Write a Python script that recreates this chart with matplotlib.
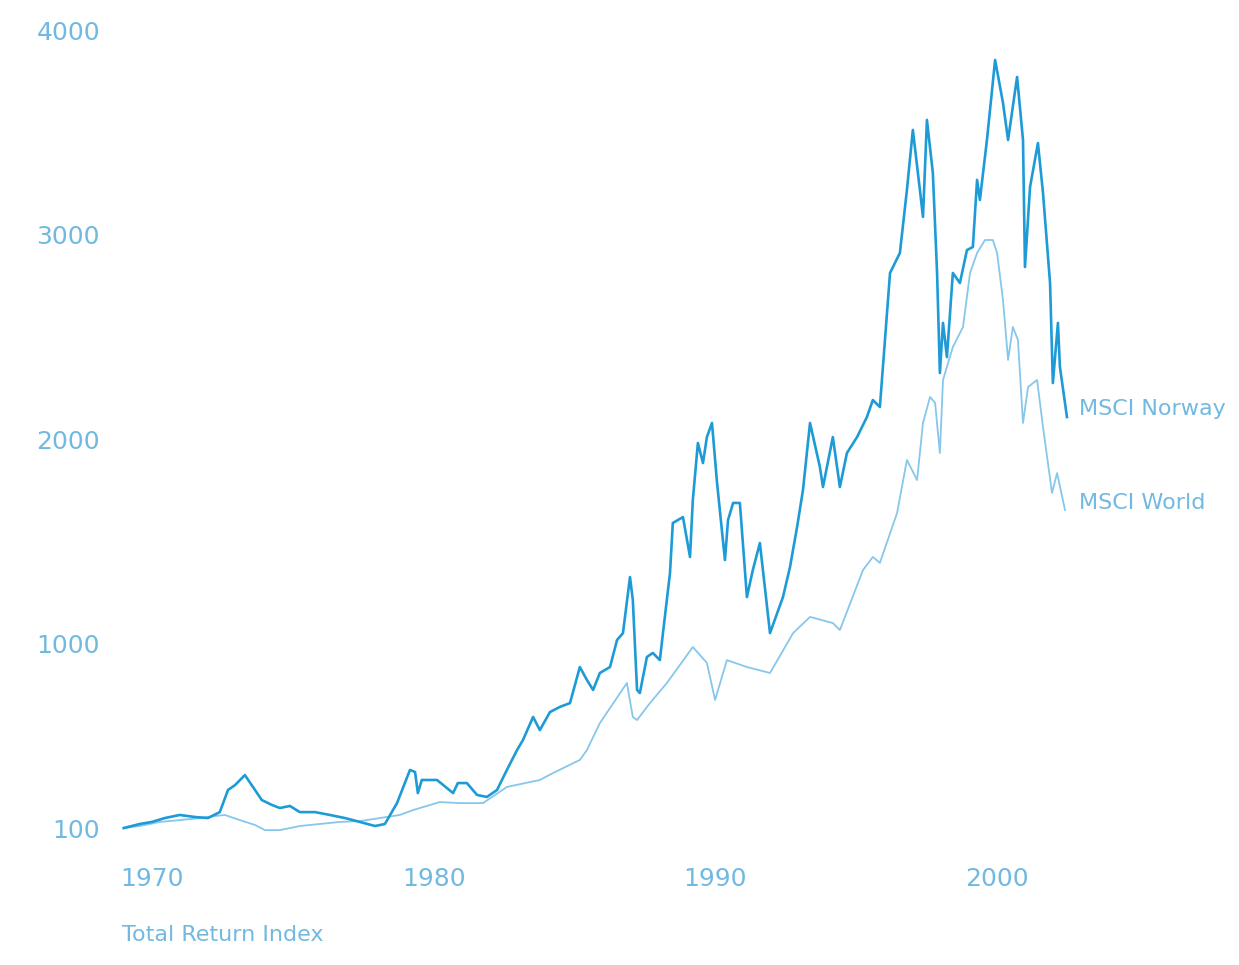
import matplotlib
matplotlib.use('Agg')
import matplotlib.pyplot as plt

# MSCI Norway total return index
norway_year = [1969.0, 1969.57, 1970.0, 1970.46, 1970.99, 1971.53, 1971.99, 1972.41, 1972.70, 1972.95,
               1973.30, 1973.66, 1973.90, 1974.26, 1974.54, 1974.90, 1975.25, 1975.79, 1976.32, 1976.85,
               1977.38, 1977.92, 1978.27, 1978.70, 1979.16, 1979.34, 1979.44, 1979.58, 1980.12, 1980.69,
               1980.86, 1981.18, 1981.54, 1981.89, 1982.25, 1982.60, 1982.96, 1983.17, 1983.53, 1983.77,
               1984.13, 1984.48, 1984.84, 1985.19, 1985.44, 1985.66, 1985.90, 1986.26, 1986.51, 1986.72,
               1986.97, 1987.07, 1987.22, 1987.32, 1987.57, 1987.78, 1988.03, 1988.14, 1988.39, 1988.49,
               1988.85, 1989.10, 1989.20, 1989.38, 1989.56, 1989.70, 1989.88, 1990.06, 1990.34, 1990.45,
               1990.63, 1990.87, 1991.12, 1991.33, 1991.58, 1991.94, 1992.40, 1992.65, 1992.90, 1993.11,
               1993.36, 1993.71, 1993.82, 1994.17, 1994.42, 1994.67, 1995.03, 1995.38, 1995.59, 1995.84,
               1996.20, 1996.55, 1996.80, 1997.01, 1997.26, 1997.37, 1997.51, 1997.72, 1997.87, 1997.97,
               1998.08, 1998.22, 1998.43, 1998.68, 1998.93, 1999.14, 1999.29, 1999.39, 1999.64, 1999.93,
               2000.21, 2000.39, 2000.71, 2000.92, 2000.99, 2001.17, 2001.45, 2001.63, 2001.88, 2001.98,
               2002.16, 2002.23, 2002.48]
norway_value = [100, 120, 130, 149, 164, 154, 149, 178, 286, 310,
                359, 286, 237, 213, 198, 208, 178, 178, 164, 149,
                130, 110, 120, 222, 384, 374, 271, 335, 335, 271,
                320, 320, 262, 252, 286, 384, 481, 530, 643, 579,
                667, 692, 711, 887, 824, 775, 858, 887, 1019, 1053,
                1327, 1215, 775, 760, 936, 956, 921, 1053, 1347, 1591,
                1620, 1425, 1703, 1982, 1884, 2011, 2080, 1787, 1410, 1606,
                1689, 1689, 1229, 1361, 1493, 1053, 1229, 1376, 1571, 1752,
                2080, 1865, 1767, 2011, 1767, 1933, 2011, 2109, 2192, 2158,
                2813, 2911, 3219, 3512, 3219, 3087, 3561, 3302, 2813, 2324,
                2569, 2402, 2813, 2764, 2925, 2940, 3268, 3170, 3463, 3854,
                3644, 3463, 3771, 3463, 2842, 3233, 3448, 3204, 2764, 2275,
                2569, 2354, 2109]

# MSCI World total return index
world_year = [1969.0, 1969.57, 1970.28, 1970.99, 1971.70, 1972.24, 1972.59, 1973.12, 1973.66, 1974.01,
              1974.54, 1974.90, 1975.25, 1975.96, 1976.67, 1977.38, 1978.09, 1978.80, 1979.27, 1980.22,
              1980.93, 1981.75, 1982.60, 1983.77, 1984.24, 1985.19, 1985.44, 1985.90, 1986.86, 1987.07,
              1987.22, 1987.68, 1988.28, 1989.20, 1989.70, 1989.99, 1990.41, 1991.12, 1991.94, 1992.76,
              1993.36, 1994.17, 1994.42, 1995.24, 1995.59, 1995.84, 1996.45, 1996.80, 1997.16, 1997.37,
              1997.62, 1997.80, 1997.97, 1998.08, 1998.43, 1998.79, 1999.04, 1999.29, 1999.57, 1999.85,
              2000.00, 2000.21, 2000.39, 2000.56, 2000.74, 2000.92, 2001.10, 2001.42, 2001.63, 2001.95,
              2002.13, 2002.41]
world_value = [100, 110, 130, 139, 149, 159, 164, 139, 115, 90,
               90, 100, 110, 120, 130, 134, 149, 164, 188, 227,
               222, 222, 301, 335, 369, 433, 481, 613, 809, 643,
               628, 711, 809, 985, 907, 726, 921, 887, 858, 1053,
               1132, 1102, 1068, 1361, 1425, 1396, 1640, 1899, 1801, 2080,
               2207, 2178, 1933, 2290, 2451, 2549, 2813, 2911, 2974, 2974,
               2911, 2681, 2388, 2549, 2486, 2080, 2256, 2290, 2060, 1738,
               1835, 1655]

year_ticks = [1970, 1980, 1990, 2000]
value_ticks = [100, 1000, 2000, 3000, 4000]

norway_color = '#1e9bd7'
world_color = '#86c7eb'
text_color = '#72b9e1'

fig = plt.figure(figsize=(12.39, 9.65), dpi=100)
ax = fig.add_axes([0.0885, 0.1207, 0.8072, 0.8693])

ax.plot(world_year, world_value, color=world_color, lw=1.3)
ax.plot(norway_year, norway_value, color=norway_color, lw=1.9)

ax.set_xlim(1968.5, 2004)
ax.set_ylim(0, 4100)
ax.set_xticks(year_ticks)
ax.set_yticks(value_ticks)
ax.tick_params(length=0, labelsize=18, labelcolor=text_color)
ax.tick_params(axis='x', pad=13)
ax.tick_params(axis='y', pad=7)
for s in ax.spines.values():
    s.set_visible(False)

ax.annotate('MSCI Norway', xy=(norway_year[-1], norway_value[-1]), xytext=(9, 6),
            textcoords='offset points', fontsize=16, color=text_color, va='center')
ax.annotate('MSCI World', xy=(world_year[-1], world_value[-1]), xytext=(10, 5),
            textcoords='offset points', fontsize=16, color=text_color, va='center')

fig.text(122/1239, 1 - 935/965, 'Total Return Index', fontsize=16, color=text_color, va='center')

fig.savefig('out.png', dpi=100)
